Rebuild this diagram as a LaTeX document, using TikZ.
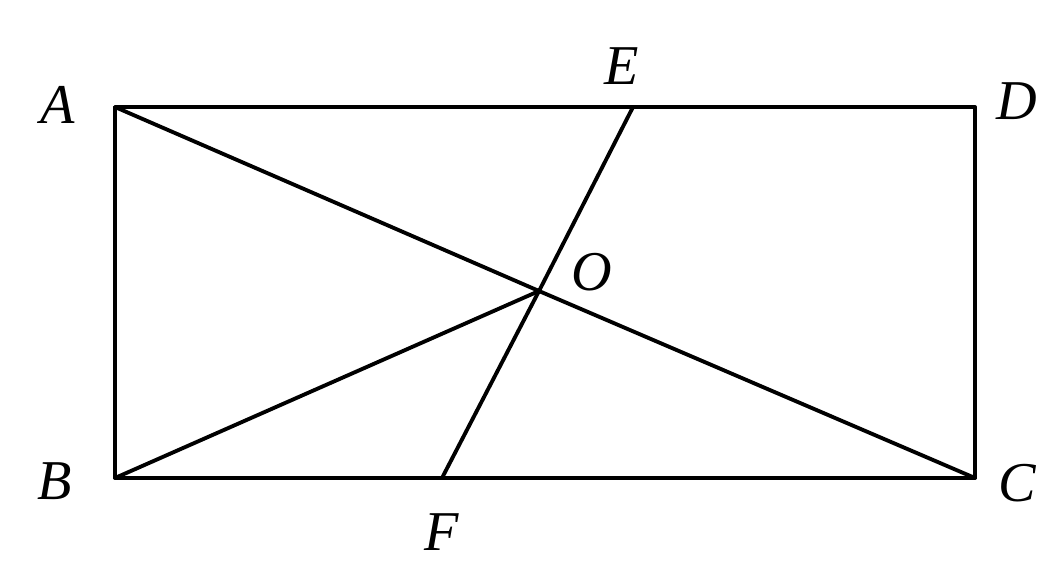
\documentclass[tikz,border=0pt]{standalone}
\usepackage{fontspec}
\setmainfont{Liberation Serif}
\usetikzlibrary{positioning}

\begin{document}
\begin{tikzpicture}[
    x=0.02cm, y=-0.02cm,
    edge/.style={line width=2.2pt, black, line cap=round, line join=round},
    pt/.style={font=\fontsize{32}{36}\selectfont\itshape, inner sep=0pt},
]
    \useasboundingbox (0,0) rectangle (1047,562);
    \coordinate (A) at (115,107);
    \coordinate (D) at (975,107);
    \coordinate (B) at (115,478);
    \coordinate (C) at (975,478);
    \coordinate (E) at (633,107);
    \coordinate (F) at (442,478);
    \coordinate (O) at (539,291);

    \node[pt] (labA) at (58,105) {A};
    \node[pt] (labD) at (1017,101) {D};
    \node[pt] (labB) at (55,481) {B};
    \node[pt] (labC) at (1017,483) {C};
    \node[pt] (labE) at (622,66) {E};
    \node[pt] (labF) at (442,532) {F};
    \node[pt] (labO) at (592,272) {O};

    \draw[edge] (A) -- (D) -- (C) -- (B) -- cycle;
    \draw[edge] (A) -- (O) -- (C);
    \draw[edge] (B) -- (O);
    \draw[edge] (E) -- (O) -- (F);
\end{tikzpicture}
\end{document}
